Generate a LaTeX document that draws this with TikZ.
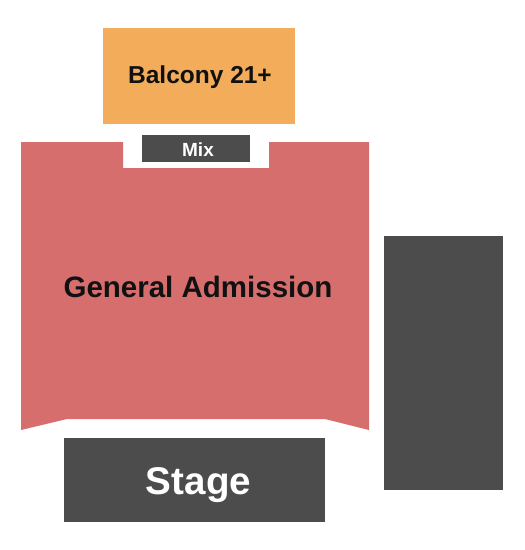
\documentclass[tikz,border=0pt]{standalone}
\usepackage{fontspec}
\setmainfont{Liberation Sans}
\definecolor{gacol}{HTML}{D76E6E}
\definecolor{balcol}{HTML}{F2AC5A}
\definecolor{darkcol}{HTML}{4D4C4D}
\definecolor{txtcol}{HTML}{111111}
\begin{document}
\begin{tikzpicture}[x=1pt,y=-1pt,
  lbl/.style={inner sep=0pt,anchor=base,font=\bfseries},
  darkbox/.style={fill=darkcol,draw=none}]
\useasboundingbox (0,0) rectangle (525,550);
\fill[white] (0,0) rectangle (525,550);
% Balcony
\fill[balcol] (103,28) rectangle (295,124);
\node[lbl,text=txtcol,font=\bfseries\fontsize{24.5}{28}\selectfont] (balcony) at (200,83) {Balcony 21+};
% General Admission polygon
\fill[gacol] (21,142) -- (123,142) -- (123,168) -- (269,168) -- (269,142) -- (369,142)
  -- (369,430) -- (325,419) -- (67,419) -- (21,430) -- cycle;
\node[lbl,text=txtcol,font=\bfseries\fontsize{29.5}{34}\selectfont] (ga) at (198,297) {General Admission};
% Mix
\fill[darkbox] (142,135) rectangle (250,162);
\node[lbl,text=white,font=\bfseries\fontsize{19}{22}\selectfont] (mix) at (198,156) {Mix};
% Stage
\fill[darkbox] (64,438) rectangle (325,522);
\node[lbl,text=white,font=\bfseries\fontsize{38.6}{44}\selectfont] (stage) at (198.5,494) {Stage};
% Right block
\fill[darkbox] (384,236) rectangle (503,490);
\end{tikzpicture}
\end{document}
